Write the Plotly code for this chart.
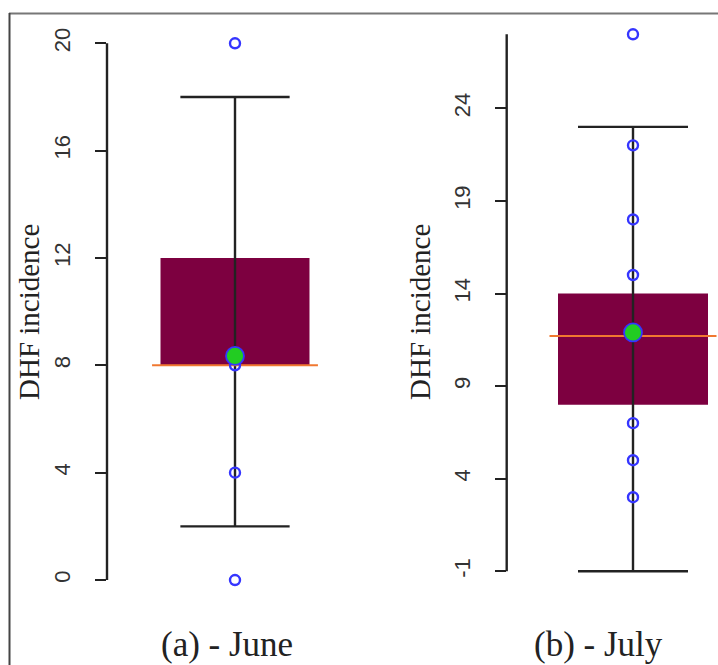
import plotly.graph_objects as go

# ---------------- data ----------------
panels = ["(a) - June", "(b) - July"]
y_title = "DHF incidence"

june_q1, june_q3 = 8, 12
june_median = 8
june_mean = 8.35
june_whisk_lo, june_whisk_hi = 2, 18
june_points = [20, 8, 4, 0]
june_ticks = [0, 4, 8, 12, 16, 20]

july_q1, july_q3 = 8, 14
july_median = 11.7
july_mean = 11.9
july_whisk_lo, july_whisk_hi = -1, 23
july_points = [28, 22, 18, 15, 12, 7, 5, 3]
july_ticks = [-1, 4, 9, 14, 19, 24]
july_axis_top = 28

# ---------------- styles ----------------
W, H = 718, 665
BOX_COLOR = "#7D0040"
MEDIAN_COLOR = "#F07830"
POINT_COLOR = "#3535FF"
MEAN_COLOR = "#22CC22"
INK = "#222222"
BOX_HALF, CAP_HALF, MED_HALF = 0.3, 0.22, 0.334

fig = go.Figure()


def add_panel(xa, ya, q1, q3, med, mean, wlo, whi, pts):
    xs, ys = f"x{xa}" if xa > 1 else "x", f"y{ya}" if ya > 1 else "y"
    fig.add_trace(go.Bar(x=[1], y=[q3 - q1], base=[q1], width=[2 * BOX_HALF],
                         marker=dict(color=BOX_COLOR, line=dict(width=0)),
                         xaxis=xs, yaxis=ys, showlegend=False, hoverinfo="skip"))
    # whisker + caps
    fig.add_trace(go.Scatter(
        x=[1, 1, None, 1 - CAP_HALF, 1 + CAP_HALF, None, 1 - CAP_HALF, 1 + CAP_HALF],
        y=[wlo, whi, None, whi, whi, None, wlo, wlo],
        mode="lines", line=dict(color=INK, width=2.4),
        xaxis=xs, yaxis=ys, showlegend=False, hoverinfo="skip"))
    # median
    fig.add_trace(go.Scatter(x=[1 - MED_HALF, 1 + MED_HALF], y=[med, med], mode="lines",
                             line=dict(color=MEDIAN_COLOR, width=2),
                             xaxis=xs, yaxis=ys, showlegend=False, hoverinfo="skip"))
    # points
    fig.add_trace(go.Scatter(x=[1] * len(pts), y=pts, mode="markers",
                             marker=dict(symbol="circle-open", size=10, color=POINT_COLOR,
                                         line=dict(width=2.4, color=POINT_COLOR)),
                             xaxis=xs, yaxis=ys, showlegend=False))
    # mean
    fig.add_trace(go.Scatter(x=[1], y=[mean], mode="markers",
                             marker=dict(symbol="circle", size=18, color=MEAN_COLOR,
                                         line=dict(width=1.8, color=POINT_COLOR)),
                             xaxis=xs, yaxis=ys, showlegend=False))


add_panel(1, 1, june_q1, june_q3, june_median, june_mean, june_whisk_lo, june_whisk_hi, june_points)
add_panel(2, 2, july_q1, july_q3, july_median, july_mean, july_whisk_lo, july_whisk_hi, july_points)

ydom = [65 / H, 645 / H]
tickfont = dict(family="Liberation Sans, Arial", size=22, color="#333333")
yax_common = dict(showgrid=False, zeroline=False, showline=False, ticks="outside",
                  ticklen=11, tickwidth=2, tickcolor=INK, tickangle=-90,
                  tickfont=tickfont, ticklabelstandoff=16, domain=ydom)

fig.update_layout(
    width=W, height=H, margin=dict(l=0, r=0, t=0, b=0),
    paper_bgcolor="white", plot_bgcolor="white", showlegend=False,
    xaxis=dict(domain=[107 / W, 345 / W], range=[0.4845, 1.443], visible=False),
    xaxis2=dict(domain=[506.7 / W, 1.0], range=[0.4948, 1.34], visible=False),
    yaxis=dict(anchor="x", range=[-0.745, 20.868], tickvals=june_ticks,
               ticktext=[str(t) for t in june_ticks], **yax_common),
    yaxis2=dict(anchor="x2", range=[-2.55, 28.77], tickvals=july_ticks,
                ticktext=[str(t) for t in july_ticks], **yax_common),
)

# axis lines (R style: only over the tick span)
fig.add_shape(type="line", xref="x domain", yref="y", x0=0, x1=0,
              y0=min(june_ticks), y1=max(june_ticks), line=dict(color=INK, width=2.4))
fig.add_shape(type="line", xref="x2 domain", yref="y2", x0=0, x1=0,
              y0=min(july_ticks), y1=july_axis_top, line=dict(color=INK, width=2.4))

# frame
fig.add_shape(type="line", xref="paper", yref="paper", x0=9 / W, x1=1,
              y0=(H - 13.5) / H, y1=(H - 13.5) / H, line=dict(color="#777777", width=2))
fig.add_shape(type="line", xref="paper", yref="paper", x0=9.5 / W, x1=9.5 / W,
              y0=0, y1=(H - 13) / H, line=dict(color="#444444", width=2))

title_font = dict(family="Liberation Serif, Times New Roman", size=29, color=INK)
for xp in (29, 420):
    fig.add_annotation(text=y_title, xref="paper", yref="paper", x=xp / W, y=(H - 312) / H,
                       xanchor="center", yanchor="middle", textangle=-90,
                       showarrow=False, font=title_font)
lab_font = dict(family="Liberation Serif, Times New Roman", size=35, color=INK)
for xp, lab in zip((227, 598), panels):
    fig.add_annotation(text=lab, xref="paper", yref="paper", x=xp / W, y=0,
                       xanchor="center", yanchor="bottom", showarrow=False,
                       borderpad=0, font=lab_font)

fig.write_html("out.html")
